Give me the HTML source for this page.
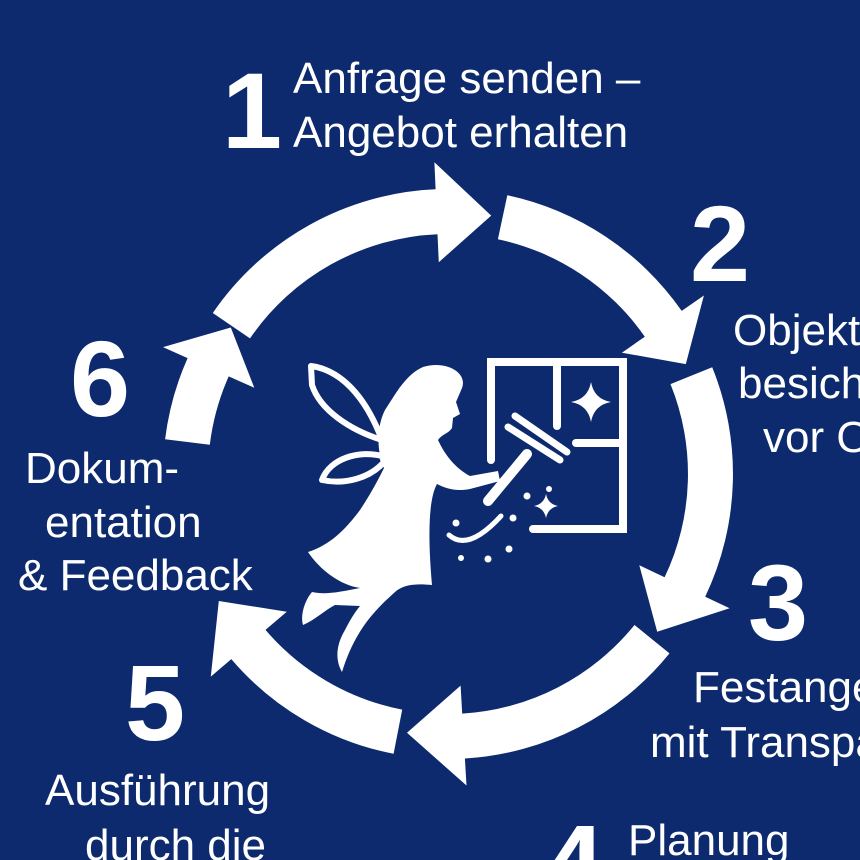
<!DOCTYPE html>
<html><head><meta charset="utf-8">
<style>
html,body{margin:0;padding:0;background:#0e2a6e;width:860px;height:860px;overflow:hidden;}
svg{display:block}
text{font-family:"Liberation Sans",sans-serif;fill:#fff}
.n{font-weight:bold;font-size:108px}
.l{font-size:44px}
</style></head>
<body>
<svg id="s" width="860" height="860" viewBox="0 0 860 860" xmlns="http://www.w3.org/2000/svg">
<rect width="860" height="860" fill="#0e2a6e"/>
<g id="arrows" fill="#fff"></g>

<!-- window -->
<g fill="none" stroke="#fff" stroke-width="8" stroke-linecap="round">
<path d="M491,460 L491,362 L623,362 L623,529 L533,529"/>
<path d="M557,362 L557,426"/>
<path d="M576,443 L623,443"/>
<path d="M515,416 L567,452" stroke-width="7"/>
<path d="M508,427 L560,460" stroke-width="7"/>
<path d="M527,454 L488,501" stroke-width="10"/>
<path d="M449,535 Q468,552 501,516" stroke-width="5"/>
</g>
<path d="M591,382 Q594,399 611,402 Q594,405 591,422 Q588,405 571,402 Q588,399 591,382Z" fill="#fff"/>
<path d="M546,494 Q548,504 558,506 Q548,508 546,518 Q544,508 534,506 Q544,504 546,494Z" fill="#fff"/>
<g fill="#fff">
<circle cx="549" cy="489" r="3"/><circle cx="527" cy="496" r="3.5"/><circle cx="513" cy="518" r="3.5"/>
<circle cx="456" cy="523" r="3.5"/><circle cx="509" cy="549" r="3.5"/><circle cx="488" cy="559" r="3.5"/><circle cx="461" cy="558" r="3"/>
</g>
<!-- wings -->
<g fill="none" stroke="#fff" stroke-width="6" stroke-linejoin="round">
<path d="M311,366 C340,370 365,395 382,440 C350,430 320,410 312,385 Z"/>
<path d="M382,456 C360,450 330,458 322,480 C345,485 370,478 384,462 Z"/>
</g>
<!-- fairy body -->
<path fill="#fff" d="M423,367 C445,360 468,372 462,388 L456,402 L460,414 L453,418 L452,428 C448,434 442,434 438,440 C445,455 455,468 470,476 L498,471 L500,481 L470,489 C455,492 445,488 437,484 C428,500 428,540 432,585 C420,584 405,583 395,592 C375,610 355,630 342,672 C335,660 336,645 345,630 C350,620 355,612 360,606 L335,605 C325,610 315,620 303,625 C300,615 305,600 312,592 C325,595 340,592 360,588 C340,585 320,570 308,552 C330,545 345,530 360,510 C370,495 378,480 384,468 C378,455 375,430 385,410 C395,395 405,375 423,367 Z"/>

<!-- labels -->
<text class="n" x="222" y="148">1</text>
<text class="l" x="293" y="93">Anfrage senden –</text>
<text class="l" x="293" y="147">Angebot erhalten</text>

<text class="n" x="690" y="281">2</text>
<text class="l" x="733" y="345">Objekt</text>
<text class="l" x="738" y="398">besich</text>
<text class="l" x="763" y="452">vor O</text>

<text class="n" x="70" y="416">6</text>
<text class="l" x="25" y="483">Dokum-</text>
<text class="l" x="45" y="537">entation</text>
<text class="l" x="18" y="590">&amp; Feedback</text>

<text class="n" x="748" y="640">3</text>
<text class="l" x="693" y="702">Festange</text>
<text class="l" x="650" y="757">mit Transpa</text>

<text class="n" x="125" y="740">5</text>
<text class="l" x="45" y="805">Ausführung</text>
<text class="l" x="85" y="860">durch die</text>

<text class="n" x="544" y="900">4</text>
<text class="l" x="628" y="855">Planung</text>
</svg>
<script>
(function(){
var cx=448,cy=474,Ro=285,Ri=240,Rm=262,H=50;
function p(r,a){a=a*Math.PI/180;return (cx+r*Math.cos(a)).toFixed(1)+","+(cy+r*Math.sin(a)).toFixed(1);}
var segs=[[-145.6,-92.5,-80.5],[-78,-34.9,-24.8],[-22,25.5,37],[39,86.6,99],[101,139.5,151],[187,204,214]];
var g=document.getElementById("arrows"),out="";
segs.forEach(function(s){
var a0=s[0],a1=s[1],at=s[2];
var d="M"+p(Ro,a0)+" A"+Ro+","+Ro+" 0 0 1 "+p(Ro,a1)+" L"+p(Rm+H,a1)+" L"+p(Rm,at)+" L"+p(Rm-H,a1)+" L"+p(Ri,a1)+" A"+Ri+","+Ri+" 0 0 0 "+p(Ri,a0)+" Z";
out+='<path d="'+d+'"/>';
});
g.innerHTML=out;
})();
</script>
</body></html>
